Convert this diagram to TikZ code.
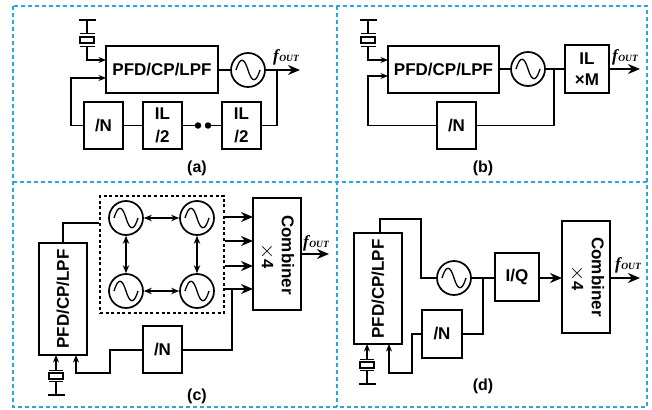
\documentclass[tikz,border=0pt]{standalone}
\usepackage{fontspec}
\setmainfont{Liberation Sans}
\newfontfamily\fser{Liberation Serif}
\usetikzlibrary{arrows.meta}
\definecolor{panelblue}{HTML}{25A9D6}
\newcommand{\fout}{{\fser\bfseries\itshape\fontsize{17}{17}\selectfont f\kern0.5pt\fontsize{9.5}{10}\selectfont OUT}}
\newcommand{\xfour}{{\fontsize{21}{21}\selectfont$\times$}{\bfseries\fontsize{16.5}{18}\selectfont 4}}
\tikzset{
  x=1pt,y=-1pt,
  wire/.style={line width=1.7pt,line join=miter},
  arr/.style={wire,-{Stealth[length=12pt,width=10pt]}},
  sarr/.style={wire,-{Stealth[length=7.5pt,width=6pt]}},
  darr/.style={line width=1.2pt,{Stealth[length=8pt,width=6.5pt]}-{Stealth[length=8pt,width=6.5pt]}},
  blk/.style={draw,wire,fill=white,inner sep=0pt,align=center,font=\bfseries\fontsize{17}{20}\selectfont},
  lab/.style={inner sep=0pt,font=\bfseries\fontsize{16}{18}\selectfont},
  rlab/.style={inner sep=0pt,font=\bfseries\fontsize{17}{18}\selectfont},
  thin4/.style={inner sep=0pt},
  fo/.style={inner sep=0pt},
  osc/.style={draw,wire,circle,minimum size=34pt,inner sep=0pt,
    path picture={\draw[line width=1.3pt] ([shift={(-12,0)}]path picture bounding box.center)
      .. controls +(4,-13) and +(-4,-13) .. ++(12,0) .. controls +(4,13) and +(-4,13) .. ++(12,0);}},
  xrect/.style={draw,line width=1.2pt,inner sep=0pt},
  plate/.style={line width=1.2pt},
  gnd/.style={line width=2.2pt},
  pdash/.style={draw=panelblue,line width=2.9pt,dash pattern=on 4.4pt off 2.6pt},
  bdash/.style={draw,line width=1.5pt,dash pattern=on 3pt off 2.6pt},
  dotn/.style={circle,fill=black,inner sep=0pt,minimum size=6.5pt},
}
% \blkbox{name}{x1}{y1}{x2}{y2}{options}{text}
\newcommand{\blkbox}[7]{%
  \pgfmathsetmacro{\bw}{#4-#2}\pgfmathsetmacro{\bh}{#5-#3}%
  \pgfmathsetmacro{\bx}{(#2+#4)/2}\pgfmathsetmacro{\by}{(#3+#5)/2}%
  \node[blk,outer sep=0pt,minimum width=\bw pt,minimum height=\bh pt,#6] (#1) at (\bx,\by) {#7};}
\begin{document}
\begin{tikzpicture}
\useasboundingbox (0,0) rectangle (652,409);
\fill[white] (0,0) rectangle (652,409);
% panels
\draw[pdash] (13,6) rectangle (647,407);
\draw[pdash] (337,6) -- (337,407);
\draw[pdash] (13,182) -- (647,182);

% ---------- (a)
\blkbox{apfd}{106}{46}{218}{93}{}{PFD/CP/LPF}
\node[osc] (aosc) at (248,70) {};
\blkbox{an}{84}{102}{123}{149}{}{/N}
\blkbox{ail1}{143}{102}{182}{149}{}{IL\\[3pt]/2}
\blkbox{ail2}{222}{102}{261}{149}{}{IL\\[3pt]/2}
\node[dotn] (ad1) at (198,125.5) {};
\node[dotn] (ad2) at (208,125.5) {};
\node[xrect,minimum width=14pt,minimum height=6pt] (ax) at (87,40) {};
\coordinate (agnd) at (87,20);
\draw[gnd] (79,20) -- (96,20);
\draw[plate] (80,33.5) -- (95,33.5) (80,46.5) -- (95,46.5);
\draw[wire] (agnd) -- (87,33.5);
\draw[sarr] (87,46.5) -- (87,60) -- (apfd.west |- 0,60);
\draw[sarr] (an.west) -- (71,125.5) -- (71,78) -- (apfd.west |- 0,78);
\draw[wire] (apfd.east |- aosc) -- (aosc.west);
\coordinate (aout) at (300,70);
\draw[arr] (aosc.east) -- (aout);
\draw[wire] (ail2.east) -- (277,125.5) -- (277,70);
\draw[wire] (an.east) -- (ail1.west);
\draw[wire] (ail1.east) -- (ad1);
\draw[wire] (ad2) -- (ail2.west);
\node[fo] (afo) at (286,57) {\fout};
\node[lab] (ala) at (197,168) {(a)};

% ---------- (b)
\blkbox{bpfd}{388}{46}{499}{93}{}{PFD/CP/LPF}
\node[osc] (bosc) at (528,69) {};
\blkbox{bn}{437}{102}{476}{149}{}{/N}
\blkbox{bil}{565}{45}{609}{93}{}{IL\\[1pt]×M}
\node[xrect,minimum width=14pt,minimum height=6pt] (bx) at (368,40) {};
\coordinate (bgnd) at (368,20);
\draw[gnd] (360,20) -- (377,20);
\draw[plate] (361,33.5) -- (376,33.5) (361,46.5) -- (376,46.5);
\draw[wire] (bgnd) -- (368,33.5);
\draw[sarr] (368,46.5) -- (368,60) -- (bpfd.west |- 0,60);
\draw[sarr] (bn.west) -- (368,125.5) -- (368,76) -- (bpfd.west |- 0,76);
\draw[wire] (bpfd.east |- bosc) -- (bosc.west);
\draw[wire] (bosc.east) -- (bil.west |- bosc);
\draw[wire] (bn.east) -- (554,125.5) -- (554,69);
\coordinate (bout) at (640,69);
\draw[arr] (bil.east |- bout) -- (bout);
\node[fo] (bfo) at (625,57) {\fout};
\node[lab] (bla) at (483,168) {(b)};

% ---------- (c)
\node[bdash,minimum width=124pt,minimum height=117pt,inner sep=0pt] (cdash) at (162,254.5) {};
\node[osc] (c1) at (126,218) {};
\node[osc] (c2) at (197,218) {};
\node[osc] (c3) at (126,291) {};
\node[osc] (c4) at (197,291) {};
\draw[darr] (c1) -- (c2);
\draw[darr] (c3) -- (c4);
\draw[darr] (c1) -- (c3);
\draw[darr] (c2) -- (c4);
\blkbox{ccomb}{253}{198}{301}{310}{}{}
\node[rlab,rotate=-90] (cct) at (288,255) {Combiner};
\node[thin4,rotate=-90] (cc4) at (267,256) {\xfour};
\blkbox{cpfd}{39}{243}{87}{355}{}{}
\node[rlab,rotate=90] (cpt) at (63,299) {PFD/CP/LPF};
\blkbox{cn}{143}{326}{182}{373}{}{/N}
\draw[wire] (63,243) -- (63,223) -- (cdash.west |- 0,223);
\foreach \yy in {217,241,266,289}{\draw[arr] (cdash.east |- 0,\yy) -- (ccomb.west |- 0,\yy);}
\draw[wire] (232,289) -- (232,350) -- (cn.east |- 0,350);
\draw[sarr] (cn.west |- 0,350) -- (110,350) -- (110,373) -- (76,373) -- (76,355);
\node[xrect,minimum width=14pt,minimum height=6pt] (cx) at (56,376) {};
\coordinate (cgnd) at (56,395);
\draw[gnd] (48,395) -- (65,395);
\draw[plate] (49,370.5) -- (63,370.5) (49,381.5) -- (63,381.5);
\draw[wire] (56,381.5) -- (cgnd);
\draw[sarr] (56,370.5) -- (cpfd.south -| 56,0);
\coordinate (cout) at (329,254);
\draw[arr] (ccomb.east |- cout) -- (cout);
\node[fo] (cfo) at (316,243) {\fout};
\node[lab] (cla) at (197,396) {(c)};

% ---------- (d)
\blkbox{dpfd}{354}{233}{402}{344}{}{}
\node[rlab,rotate=90] (dpt) at (378,289) {PFD/CP/LPF};
\node[osc] (dosc) at (454,278) {};
\blkbox{diq}{495}{253}{539}{301}{}{I/Q}
\blkbox{dcomb}{562}{221}{610}{333}{}{}
\node[rlab,rotate=-90] (dct) at (598,277) {Combiner};
\node[thin4,rotate=-90] (dc4) at (577,278) {\xfour};
\blkbox{dn}{422}{310}{462}{358}{}{/N}
\draw[wire] (380,233) -- (380,219) -- (421,219) -- (421,278) -- (dosc.west);
\draw[wire] (dosc.east) -- (diq.west |- dosc);
\draw[wire] (dn.east |- 0,334) -- (483,334) -- (483,278);
\draw[arr] (diq.east |- 0,278) -- (dcomb.west |- 0,278);
\coordinate (dout) at (640,278);
\draw[arr] (dcomb.east |- dout) -- (dout);
\draw[sarr] (dn.west |- 0,334) -- (412,334) -- (412,373) -- (389,373) -- (389,344);
\node[xrect,minimum width=14pt,minimum height=6pt] (dx) at (367,365) {};
\coordinate (dgnd) at (367,384);
\draw[gnd] (359,384) -- (376,384);
\draw[plate] (360,359.5) -- (374,359.5) (360,370.5) -- (374,370.5);
\draw[wire] (367,370.5) -- (dgnd);
\draw[sarr] (367,359.5) -- (dpfd.south -| 367,0);
\node[fo] (dfo) at (628,265) {\fout};
\node[lab] (dla) at (483,386) {(d)};
\end{tikzpicture}
\end{document}
